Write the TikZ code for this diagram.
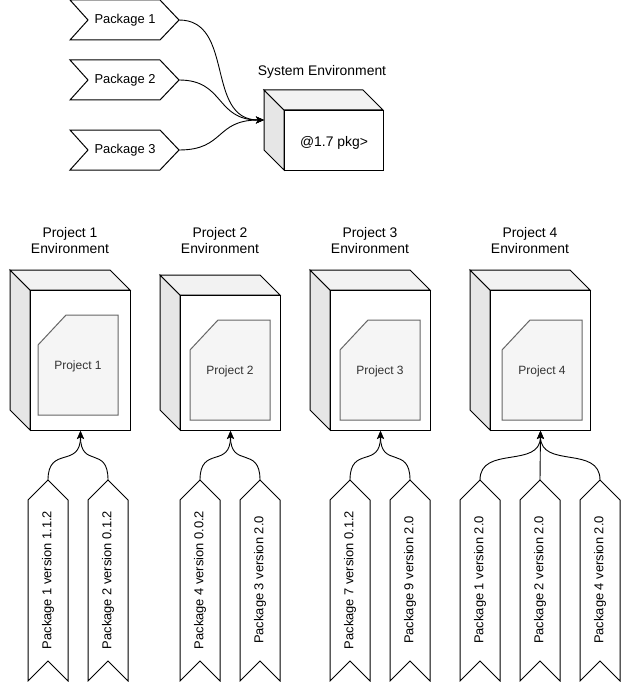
\documentclass[tikz,border=0pt]{standalone}
\usepackage{fontspec}
\setmainfont{Liberation Sans}
\usetikzlibrary{arrows.meta}
\definecolor{sidegray}{HTML}{E6E6E6}
\definecolor{topgray}{HTML}{F2F2F2}
\definecolor{cardfill}{HTML}{F5F5F5}
\definecolor{cardline}{HTML}{666666}
\definecolor{cardtext}{HTML}{333333}
\begin{document}
\begin{tikzpicture}[x=1pt,y=-1pt, line width=1pt,
  lbl/.style={inner sep=0pt, font=\fontsize{13.9}{16}\selectfont, align=center},
  pkgtext/.style={inner sep=0pt, font=\fontsize{12.9}{15}\selectfont},
  cardtxt/.style={inner sep=0pt, text=cardtext, font=\fontsize{12}{14}\selectfont},
  outline/.style={draw=black, fill=white, line join=miter},
  conn/.style={draw=black, line width=0.9pt, -{Stealth[length=8pt,width=7pt,inset=2pt]}},
]
\useasboundingbox (0,0) rectangle (622,682);

% top chevrons
\foreach \c/\n in {20/1,80/2,150/3} {
  \draw[outline] (70,\c-20) -- (160,\c-20) -- (179,\c) -- (160,\c+20) -- (70,\c+20) -- (88,\c) -- cycle;
  \node[pkgtext] (pk\n) at (125,\c) {Package \n};
  \coordinate (pk\n tip) at (179,\c);
}

% system environment box
\draw[fill=sidegray] (264,90) -- (284,110) -- (284,170) -- (264,150) -- cycle;
\draw[fill=topgray] (264,90) -- (363,90) -- (383,110) -- (284,110) -- cycle;
\node[draw, fill=white, anchor=north west, minimum width=99pt, minimum height=60pt, inner sep=0pt] (sys) at (284,110) {};
\node[lbl] (systext) at (334,143) {@1.7 pkg>};
\node[lbl] (systitle) at (322,72) {System Environment};
\coordinate (sysin) at (264,120);

\draw[conn] (pk1tip) .. controls +(56,0) and +(-59,0) .. (sysin);
\draw[conn] (pk2tip) .. controls +(46,0) and +(-49,0) .. (sysin);
\draw[conn] (pk3tip) .. controls +(46,0) and +(-49,0) .. (sysin);

% project environment boxes
\foreach \n/\x/\y/\cx/\cy in {1/10/270/38/315, 2/160/275/190/320, 3/310/270/340/320, 4/470/270/502/320} {
  \pgfmathsetmacro\h{410-\y}
  \draw[fill=sidegray] (\x,\y) -- (\x+20,\y+20) -- (\x+20,430) -- (\x,410) -- cycle;
  \draw[fill=topgray] (\x,\y) -- (\x+100,\y) -- (\x+120,\y+20) -- (\x+20,\y+20) -- cycle;
  \node[draw, fill=white, anchor=north west, minimum width=100pt, minimum height=\h pt, inner sep=0pt] (box\n) at (\x+20,\y+20) {};
  \draw[draw=cardline, fill=cardfill] (\cx,\cy+30) -- (\cx+28,\cy) -- (\cx+80,\cy) -- (\cx+80,\cy+100) -- (\cx,\cy+100) -- cycle;
  \node[cardtxt] (proj\n) at (\cx+40,\cy+51) {Project \n};
  \node[lbl] (title\n) at (\x+60,241) {Project \n\\Environment};
}

% ribbons
\foreach \n/\c/\t in {1/48/Package 1 version 1.1.2, 2/108/Package 2 version 0.1.2,
    3/200/Package 4 version 0.0.2, 4/260/Package 3 version 2.0,
    5/350/Package 7 version 0.1.2, 6/410/Package 9 version 2.0,
    7/480/Package 1 version 2.0, 8/540/Package 2 version 2.0, 9/600/Package 4 version 2.0} {
  \draw[outline] (\c,480) -- (\c+20,500) -- (\c+20,681) -- (\c,661) -- (\c-20,681) -- (\c-20,500) -- cycle;
  \node[pkgtext, rotate=90] (rt\n) at (\c,580) {\t};
  \coordinate (r\n) at (\c,480);
}

\draw[conn] (r1) .. controls +(0,-35) and +(0,38) .. (box1.south);
\draw[conn] (r2) .. controls +(0,-35) and +(0,38) .. (box1.south);
\draw[conn] (r3) .. controls +(0,-35) and +(0,38) .. (box2.south);
\draw[conn] (r4) .. controls +(0,-35) and +(0,38) .. (box2.south);
\draw[conn] (r5) .. controls +(0,-35) and +(0,38) .. (box3.south);
\draw[conn] (r6) .. controls +(0,-35) and +(0,38) .. (box3.south);
\draw[conn] (r7) .. controls +(0,-35) and +(0,38) .. (box4.south);
\draw[conn] (r8) -- (box4.south);
\draw[conn] (r9) .. controls +(0,-35) and +(0,38) .. (box4.south);
\end{tikzpicture}
\end{document}
